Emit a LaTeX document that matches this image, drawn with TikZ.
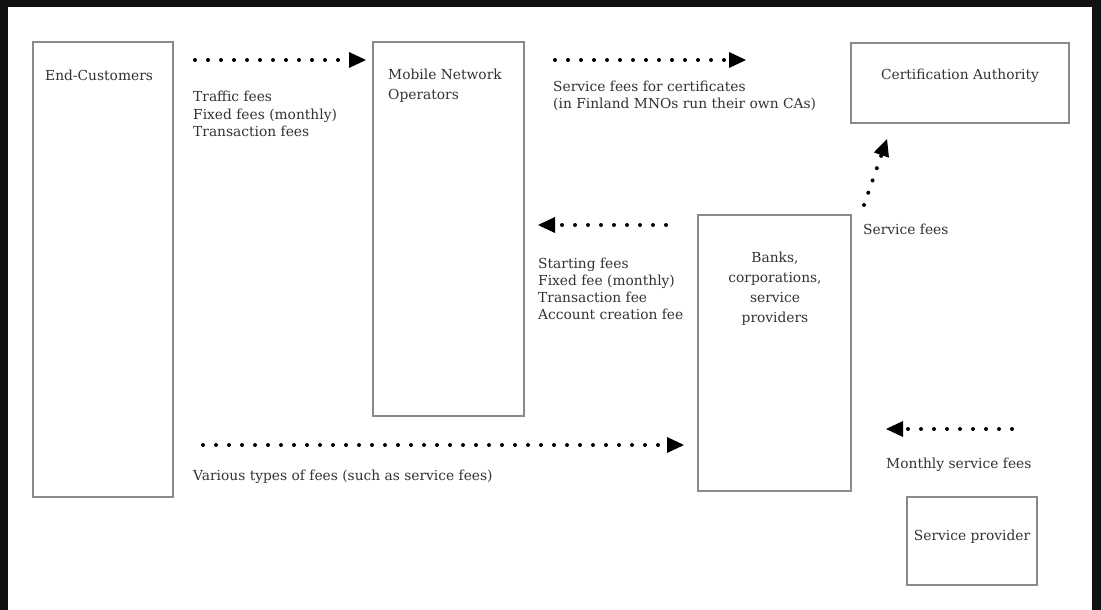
\documentclass[tikz,border=0pt]{standalone}
\usepackage{fontspec}
\setmainfont{DejaVu Serif}
\usetikzlibrary{arrows.meta}
\definecolor{frame}{HTML}{111111}
\definecolor{boxline}{HTML}{8A8A8A}
\definecolor{ink}{HTML}{333333}
\tikzset{
  box/.style={draw=boxline, line width=2pt, fill=white, inner sep=0pt},
  txt/.style={text=ink, inner sep=0pt, font=\fontsize{13.8}{17.2}\selectfont},
  boxtxt/.style={txt, font=\fontsize{13.8}{20}\selectfont},
  flow/.style={line width=4pt, line cap=round, dash pattern=on 0pt off 13pt,
    -{Triangle[length=17pt,width=16pt,line width=0pt,round=false]}, black},
}
\begin{document}
\begin{tikzpicture}[x=1pt,y=-1pt]
  % page and dark frame
  \fill[frame] (0,0) rectangle (1101,610);
  \fill[white] (8,7) rectangle (1092,610);
  \useasboundingbox (0,0) rectangle (1101,610);

  % boxes
  \node[box, minimum width=140pt, minimum height=455pt] (ec)  at (103,269.5) {};
  \node[box, minimum width=151pt, minimum height=374pt] (mno) at (448.5,229) {};
  \node[box, minimum width=218pt, minimum height=80pt]  (ca)  at (960,83) {};
  \node[box, minimum width=153pt, minimum height=276pt] (bank) at (774.5,353) {};
  \node[box, minimum width=130pt, minimum height=88pt]  (sp)  at (972,541) {};

  % box titles
  \node[boxtxt, anchor=west] (ect) at (45,75) {End-Customers};
  \node[boxtxt, anchor=west, align=left] (mnot) at (388,86) {Mobile Network\\Operators};
  \node[boxtxt] (cat) at (960,76) {Certification Authority};
  \node[boxtxt, align=center] (bankt) at (775,289) {Banks,\\corporations,\\service\\providers};
  \node[boxtxt] (spt) at (972,537) {Service provider};

  % flow labels
  \node[txt, anchor=west, align=left] (l1) at (193,114) {Traffic fees\\Fixed fees (monthly)\\Transaction fees};
  \node[txt, anchor=west, align=left] (l2) at (553,95.5) {Service fees for certificates\\(in Finland MNOs run their own CAs)};
  \node[txt, anchor=west, align=left] (l3) at (538,289) {Starting fees\\Fixed fee (monthly)\\Transaction fee\\Account creation fee};
  \node[txt, anchor=west] (l4) at (863,229) {Service fees};
  \node[txt, anchor=west] (l5) at (193,477) {Various types of fees (such as service fees)};
  \node[txt, anchor=west] (l6) at (886,465) {Monthly service fees};

  % arrow end points
  \coordinate (a1s) at (195,60);  \coordinate (a1e) at (366,60);
  \coordinate (a2s) at (555,60);  \coordinate (a2e) at (746,60);
  \coordinate (a3s) at (864,205); \coordinate (a3e) at (887,139);
  \coordinate (a4s) at (666,225); \coordinate (a4e) at (538,225);
  \coordinate (a5s) at (203,445); \coordinate (a5e) at (684,445);
  \coordinate (a6s) at (1012,429); \coordinate (a6e) at (886,429);

  % money flows
  \draw[flow] (a1s) -- (a1e);
  \draw[flow] (a2s) -- (a2e);
  \draw[flow] (a3s) -- (a3e);
  \draw[flow] (a4s) -- (a4e);
  \draw[flow] (a5s) -- (a5e);
  \draw[flow] (a6s) -- (a6e);
\end{tikzpicture}
\end{document}
